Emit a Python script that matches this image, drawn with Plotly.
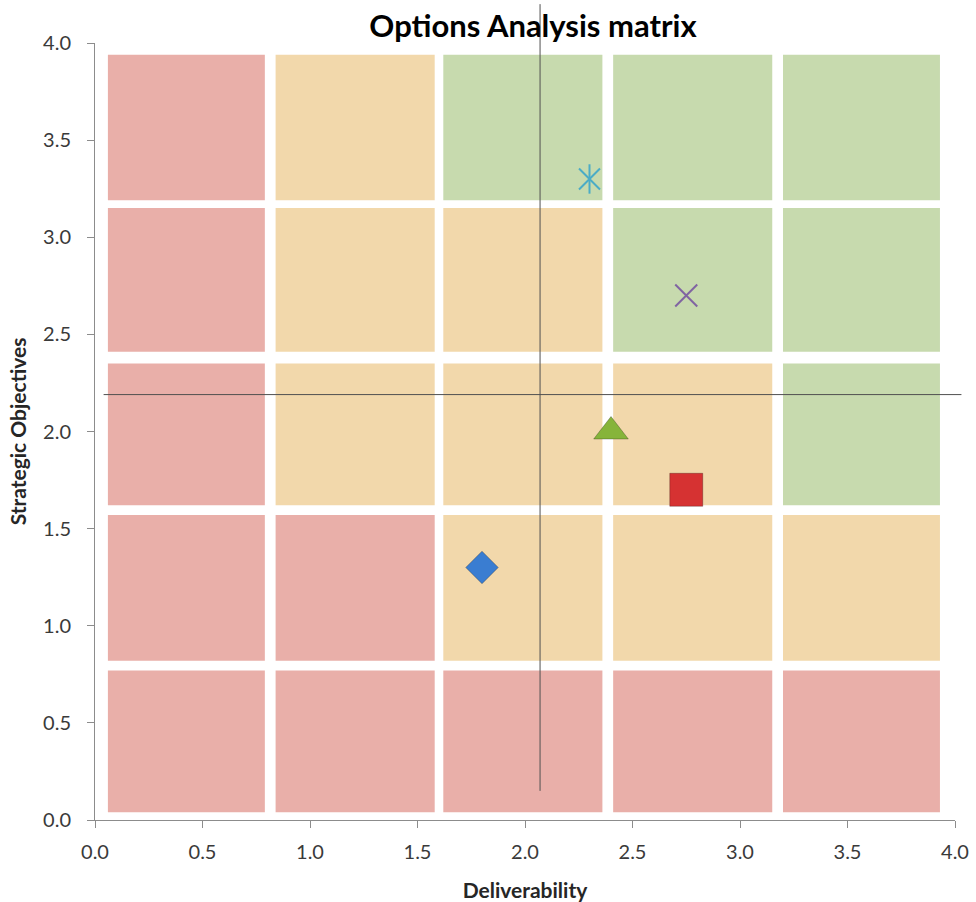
import plotly.graph_objects as go

# ---- data ----
option_names = ["Option A", "Option B", "Option C", "Option D", "Option E"]
deliverability = [1.8, 2.75, 2.4, 2.75, 2.3]
strategic = [1.3, 1.7, 2.0, 2.7, 3.3]
marker_symbols = ["diamond", "square", "triangle-up", "x-thin-open", "asterisk"]
marker_colors = ["#3A7DD1", "#D63232", "#86B43A", "#8064A2", "#4BACC6"]

# matrix cells (column edges / row edges in axis units)
col_starts = [0.06, 0.84, 1.62, 2.41, 3.20]
col_ends = [0.79, 1.58, 2.36, 3.15, 3.93]
row_starts = [0.04, 0.82, 1.62, 2.41, 3.19]
row_ends = [0.77, 1.57, 2.35, 3.15, 3.94]
# zones by row (bottom to top), R=red, A=amber, G=green
zones = [
    ["R", "R", "R", "R", "R"],
    ["R", "R", "A", "A", "A"],
    ["R", "A", "A", "A", "G"],
    ["R", "A", "A", "G", "G"],
    ["R", "A", "G", "G", "G"],
]
zone_colors = {"R": "#E9AFA9", "A": "#F2D8AB", "G": "#C7DAAE"}

# crosshair
cross_x = 2.07
cross_x_y_from, cross_x_y_to = 0.15, 4.2
cross_y = 2.19
cross_y_x_from, cross_y_x_to = 0.04, 4.03

x_ticks = [0.0, 0.5, 1.0, 1.5, 2.0, 2.5, 3.0, 3.5, 4.0]
y_ticks = [0.0, 0.5, 1.0, 1.5, 2.0, 2.5, 3.0, 3.5, 4.0]
X_RANGE = [0, 4]
Y_RANGE = [0, 4]

FONT = "Lato"

fig = go.Figure()

shapes = []
for r, row in enumerate(zones):
    for c, z in enumerate(row):
        shapes.append(dict(type="rect", xref="x", yref="y",
                           x0=col_starts[c], x1=col_ends[c],
                           y0=row_starts[r], y1=row_ends[r],
                           fillcolor=zone_colors[z], line=dict(width=0),
                           layer="below"))

def ypaper(v):
    return (v - Y_RANGE[0]) / (Y_RANGE[1] - Y_RANGE[0])

def xpaper(v):
    return (v - X_RANGE[0]) / (X_RANGE[1] - X_RANGE[0])

shapes.append(dict(type="line", xref="x", yref="paper",
                   x0=cross_x, x1=cross_x,
                   y0=ypaper(cross_x_y_from), y1=ypaper(cross_x_y_to),
                   line=dict(color="#505050", width=1), layer="above"))
shapes.append(dict(type="line", xref="paper", yref="y",
                   x0=xpaper(cross_y_x_from), x1=xpaper(cross_y_x_to),
                   y0=cross_y, y1=cross_y,
                   line=dict(color="#505050", width=1), layer="above"))

# markers
sizes = {"diamond": 25, "square": 33, "triangle-up": 30, "x-thin-open": 22}
for i in range(len(option_names)):
    sym = marker_symbols[i]
    col = marker_colors[i]
    if sym == "asterisk":
        for part in ["x-thin-open", "line-ns-open"]:
            fig.add_trace(go.Scatter(x=[deliverability[i]], y=[strategic[i]], mode="markers",
                                     name=option_names[i], showlegend=False,
                                     marker=dict(symbol=part, size=21,
                                                 line=dict(color=col, width=2), color=col)))
    elif sym == "x-thin-open":
        fig.add_trace(go.Scatter(x=[deliverability[i]], y=[strategic[i]], mode="markers",
                                 name=option_names[i], showlegend=False,
                                 marker=dict(symbol=sym, size=sizes[sym],
                                             line=dict(color=col, width=2), color=col)))
    else:
        fig.add_trace(go.Scatter(x=[deliverability[i]], y=[strategic[i]], mode="markers",
                                 name=option_names[i], showlegend=False,
                                 marker=dict(symbol=sym, size=sizes[sym], color=col,
                                             line=dict(color="rgba(0,0,0,0.25)", width=1))))

axis_common = dict(showgrid=False, zeroline=False, showline=True, linecolor="#8C8C8C",
                   linewidth=1, ticks="outside", tickcolor="#8C8C8C", ticklen=7,
                   tickwidth=1, tickformat=".1f", automargin=False,
                   tickfont=dict(family=FONT, size=20, color="#3A3A3A"))

fig.update_layout(
    width=976, height=902,
    paper_bgcolor="white", plot_bgcolor="white",
    margin=dict(l=95, r=21, t=43, b=82),
    shapes=shapes,
    title=dict(text="<b>Options Analysis matrix</b>", x=533/976, xanchor="center",
               y=1 - 26/902, yanchor="middle", yref="container",
               font=dict(family=FONT, size=31, color="#000000")),
    xaxis=dict(range=X_RANGE, tickvals=x_ticks, ticklabelstandoff=7,
               title=dict(text="<b>Deliverability</b>", standoff=22,
                          font=dict(family=FONT, size=21, color="#262626")),
               **axis_common),
    yaxis=dict(range=Y_RANGE, tickvals=y_ticks, ticklabelstandoff=12,
               title=dict(text="<b>Strategic Objectives</b>", standoff=10,
                          font=dict(family=FONT, size=21, color="#262626")),
               **axis_common),
)

fig.write_html("out.html", config={"displayModeBar": False},
               post_script="document.body.style.margin='0px';document.body.style.overflow='hidden';")
